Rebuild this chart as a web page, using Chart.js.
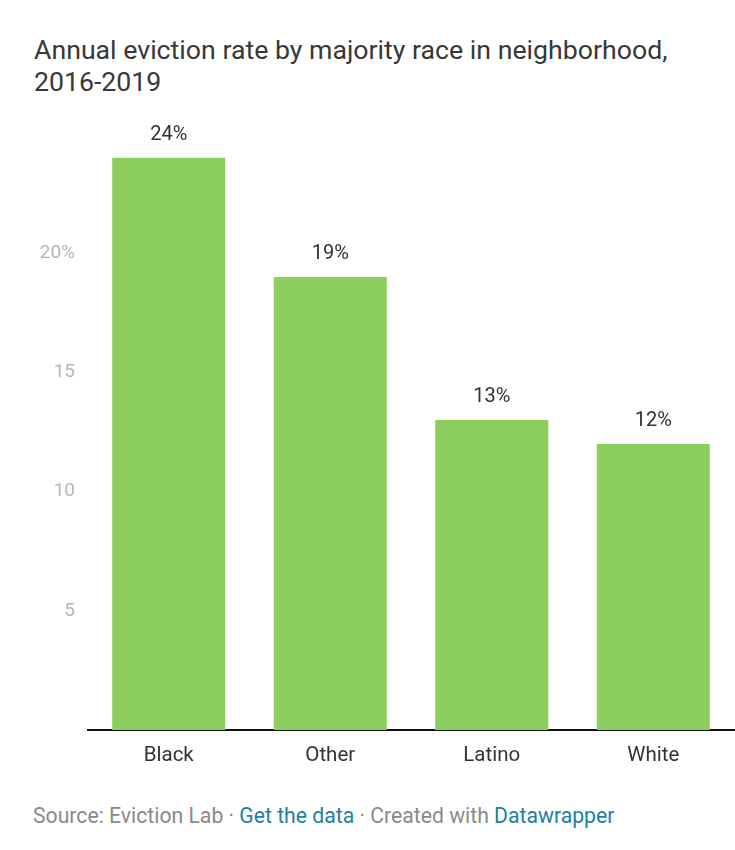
<!DOCTYPE html>
<html>
<head>
<meta charset="utf-8">
<script src="https://cdn.jsdelivr.net/npm/chart.js@4/dist/chart.umd.min.js"></script>
<style>
  body { margin: 0; background: #fff; font-family: Roboto, sans-serif; }
  #wrap { position: relative; width: 735px; height: 850px; overflow: hidden; }
  #title { position: absolute; left: 34px; top: 34px; font-size: 26.7px; line-height: 32px; color: #383838; }
  #chartBox { position: absolute; left: 0; top: 100px; width: 735px; height: 680px; }
  #source { position: absolute; left: 33px; top: 803px; font-size: 21.2px; color: #8a8a8a; }
  #source span { color: #1d81a2; }
</style>
</head>
<body>
<div id="wrap">
  <div id="title">Annual eviction rate by majority race in neighborhood,<br>2016-2019</div>
  <div id="chartBox"><canvas id="evictionChart" width="735" height="680"></canvas></div>
  <div id="source">Source: Eviction Lab · <span>Get the data</span> · Created with <span>Datawrapper</span></div>
</div>
<script>
// eviction rate (%) per neighborhood majority race
var races = ['Black', 'Other', 'Latino', 'White'];
var evictionRate = [24, 19, 13, 12];
var yTicks = [5, 10, 15, 20];
var yTickLabels = ['5', '10', '15', '20%'];

// labels above the bars
var valueLabels = {
    id: 'valueLabels',
    afterDatasetsDraw: function (chart) {
        var ctx = chart.ctx;
        var meta = chart.getDatasetMeta(0);
        ctx.save();
        ctx.font = '20px Roboto';
        ctx.fillStyle = '#333';
        ctx.textAlign = 'center';
        ctx.textBaseline = 'middle';
        meta.data.forEach(function (bar, i) {
            ctx.fillText(evictionRate[i] + '%', bar.x, bar.y - 23);
        });
        ctx.restore();
    }
};

var ctx = document.getElementById('evictionChart').getContext('2d');
var evictionChart = new Chart(ctx, {
    type: 'bar',
    data: {
        labels: races,
        datasets: [{
            data: evictionRate,
            backgroundColor: '#8dcf5f',
            barPercentage: 0.7,
            categoryPercentage: 1
        }]
    },
    options: {
        responsive: false,
        animation: false,
        layout: { padding: { top: 6, right: 1 } },
        plugins: {
            legend: { display: false },
            tooltip: { enabled: false }
        },
        scales: {
            x: {
                grid: { display: false, drawTicks: false },
                border: { color: '#111', width: 2 },
                ticks: { color: '#333', font: { size: 20.5, family: 'Roboto' }, padding: 14 },
                afterFit: function (scale) { scale.height = 50; }
            },
            y: {
                min: 0,
                max: 25.4,
                grid: { display: false, drawTicks: false },
                border: { display: false },
                afterBuildTicks: function (scale) {
                    scale.ticks = yTicks.map(function (v) { return { value: v }; });
                },
                ticks: {
                    color: '#b5b5b5',
                    font: { size: 19, family: 'Roboto' },
                    padding: 13,
                    callback: function (value) {
                        return yTickLabels[yTicks.indexOf(value)];
                    }
                },
                afterFit: function (scale) { scale.width = 88; }
            }
        }
    },
    plugins: [valueLabels]
});
</script>
</body>
</html>
